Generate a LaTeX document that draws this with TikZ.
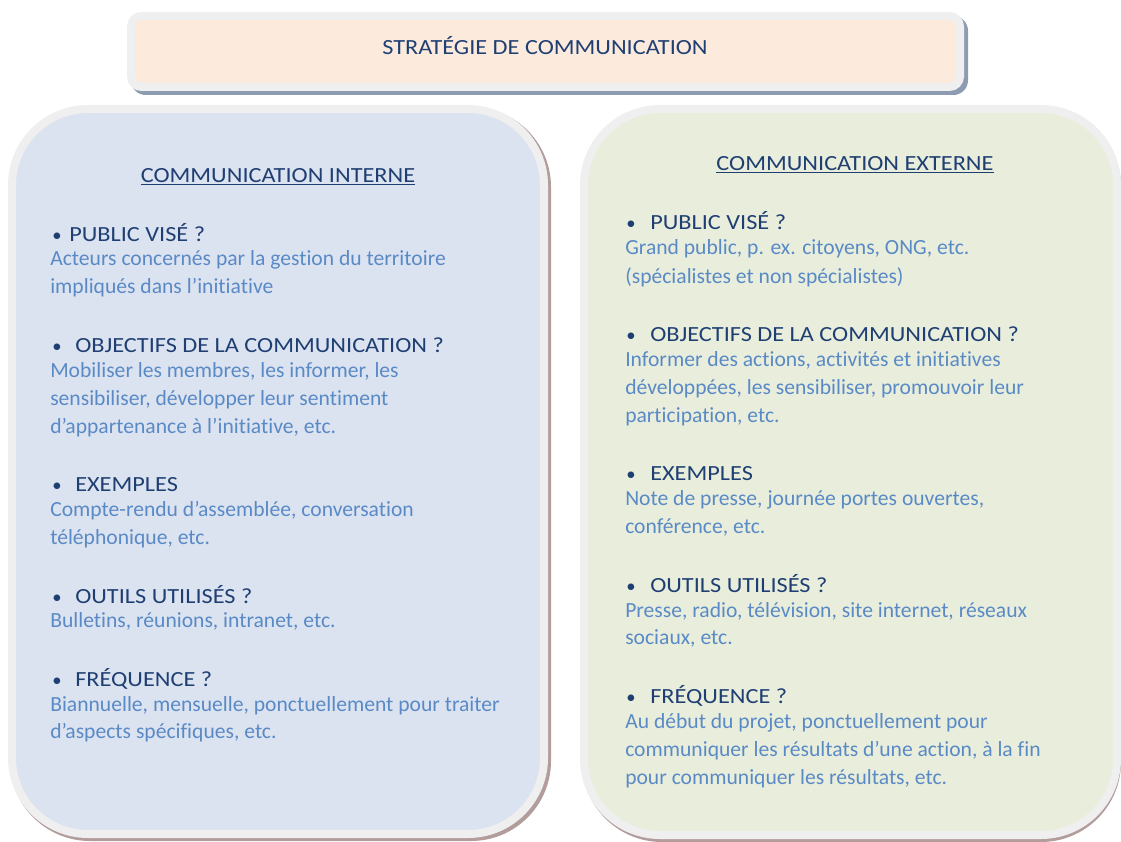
\documentclass[tikz,border=0pt]{standalone}
\usepackage{fontspec}
\setmainfont{Carlito}[Ligatures=NoCommon]
\newfontfamily\capsfont[FakeStretch=1.125]{Carlito}
\definecolor{navy}{HTML}{1F3F73}
\definecolor{lightblue}{HTML}{5A8AC6}
\definecolor{leftfill}{HTML}{DCE3F0}
\definecolor{rightfill}{HTML}{E9EEDC}
\definecolor{titlefill}{HTML}{FCEADC}
\definecolor{bordergrey}{HTML}{EFEFEF}
\definecolor{titleshadow}{HTML}{8E9CB2}
\definecolor{panelshadow}{HTML}{B39C9C}
\tikzset{
  txt/.style={inner sep=0pt, anchor=base west, font=\fontsize{16.2}{19}\selectfont},
  head/.style={txt, text=navy, font=\fontsize{16.2}{19}\capsfont},
  body/.style={txt, text=lightblue},
  bul/.style={inner sep=0pt, anchor=base, text=navy, font=\fontsize{14}{18}\selectfont},
  ctitle/.style={inner sep=0pt, anchor=base, text=navy, font=\fontsize{16.2}{19}\capsfont},
}
\begin{document}
\begin{tikzpicture}[x=0.75pt,y=-0.75pt]
\useasboundingbox (0,0) rectangle (1121,842);
% title box
\fill[titleshadow, rounded corners=11pt] (131,16) rectangle (968,95);
\draw[bordergrey, fill=titlefill, line width=6pt, rounded corners=8pt] (131,16) rectangle (960,87);
% panels
\fill[panelshadow, rounded corners=60pt] (10,107) rectangle (551,841);
\draw[bordergrey, fill=leftfill, line width=6pt, rounded corners=57pt] (12,109) rectangle (544,834);
\fill[panelshadow, rounded corners=60pt] (582,107) rectangle (1121,842);
\draw[bordergrey, fill=rightfill, line width=6pt, rounded corners=57pt] (584,109) rectangle (1117,835);
% title
\node[ctitle] (title) at (545,55) {STRATÉGIE DE COMMUNICATION};
% left panel
\node[ctitle] (lhead) at (278,182) {\underline{COMMUNICATION INTERNE}};
\node[bul] (lb1) at (57,241) {•};
\node[head] (lh1) at (69,241) {PUBLIC VISÉ ?};
\node[body] (lt1a) at (50,265) {Acteurs concernés par la gestion du territoire};
\node[body] (lt1b) at (50,293) {impliqués dans l’initiative};
\node[bul] (lb2) at (57,352) {•};
\node[head] (lh2) at (75,352) {OBJECTIFS DE LA COMMUNICATION ?};
\node[body] (lt2a) at (50,377) {Mobiliser les membres, les informer, les};
\node[body] (lt2b) at (50,405) {sensibiliser, développer leur sentiment};
\node[body] (lt2c) at (50,433) {d’appartenance à l’initiative, etc.};
\node[bul] (lb3) at (57,491) {•};
\node[head] (lh3) at (75,491) {EXEMPLES};
\node[body] (lt3a) at (50,516) {Compte-rendu d’assemblée, conversation};
\node[body] (lt3b) at (50,544) {téléphonique, etc.};
\node[bul] (lb4) at (57,603) {•};
\node[head] (lh4) at (75,603) {OUTILS UTILISÉS ?};
\node[body] (lt4a) at (50,627) {Bulletins, réunions, intranet, etc.};
\node[bul] (lb5) at (57,686) {•};
\node[head] (lh5) at (75,686) {FRÉQUENCE ?};
\node[body] (lt5a) at (50,711) {Biannuelle, mensuelle, ponctuellement pour traiter};
\node[body] (lt5b) at (50,738) {d’aspects spécifiques, etc.};
% right panel
\node[ctitle] (rhead) at (855,170) {\underline{COMMUNICATION EXTERNE}};
\node[bul] (rb1) at (631,229) {•};
\node[head] (rh1) at (650,229) {PUBLIC VISÉ ?};
\node[body] (rt1a) at (625,254) {Grand public, p. ex. citoyens, ONG, etc.};
\node[body] (rt1b) at (625,283) {(spécialistes et non spécialistes)};
\node[bul] (rb2) at (631,341) {•};
\node[head] (rh2) at (650,341) {OBJECTIFS DE LA COMMUNICATION ?};
\node[body] (rt2a) at (625,366) {Informer des actions, activités et initiatives};
\node[body] (rt2b) at (625,394) {développées, les sensibiliser, promouvoir leur};
\node[body] (rt2c) at (625,422) {participation, etc.};
\node[bul] (rb3) at (631,480) {•};
\node[head] (rh3) at (650,480) {EXEMPLES};
\node[body] (rt3a) at (625,505) {Note de presse, journée portes ouvertes,};
\node[body] (rt3b) at (625,533) {conférence, etc.};
\node[bul] (rb4) at (631,592) {•};
\node[head] (rh4) at (650,592) {OUTILS UTILISÉS ?};
\node[body] (rt4a) at (625,617) {Presse, radio, télévision, site internet, réseaux};
\node[body] (rt4b) at (625,644) {sociaux, etc.};
\node[bul] (rb5) at (631,703) {•};
\node[head] (rh5) at (650,703) {FRÉQUENCE ?};
\node[body] (rt5a) at (625,728) {Au début du projet, ponctuellement pour};
\node[body] (rt5b) at (625,756) {communiquer les résultats d’une action, à la fin};
\node[body] (rt5c) at (625,784) {pour communiquer les résultats, etc.};
\end{tikzpicture}
\end{document}
